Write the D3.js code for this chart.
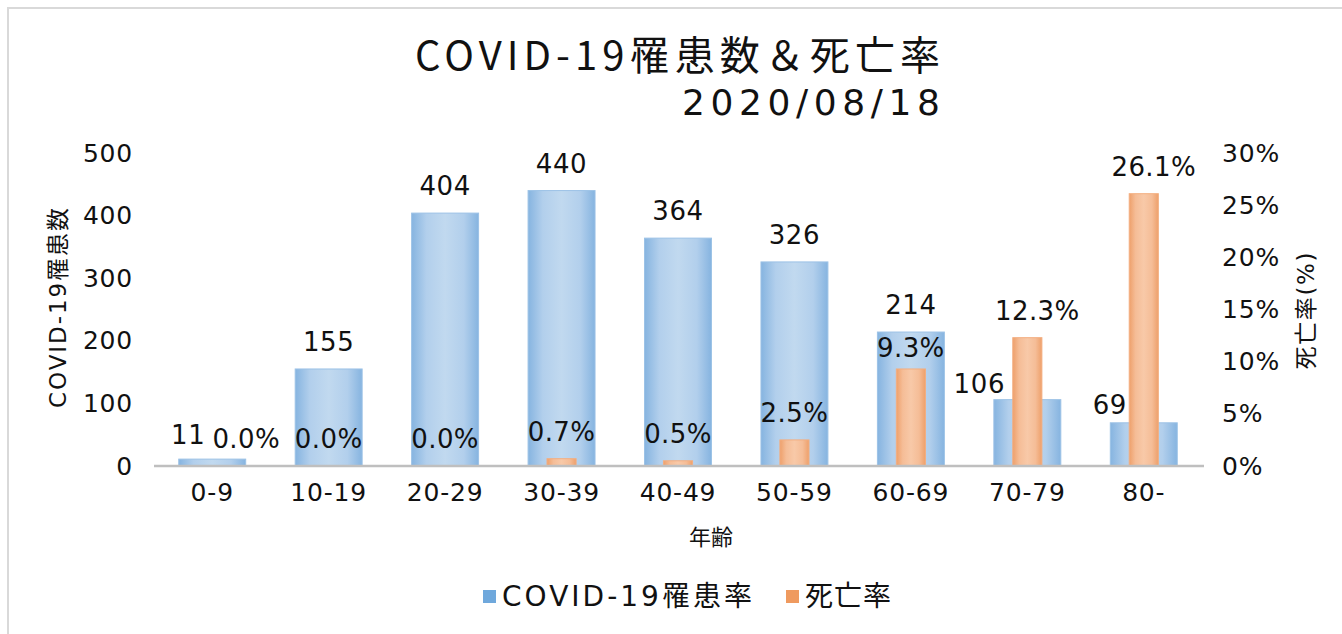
<!DOCTYPE html>
<html>
<head>
<meta charset="utf-8">
<script src="https://cdn.jsdelivr.net/npm/d3@7/dist/d3.min.js"></script>
<style>
  body { margin: 0; background: #fff; }
  svg text { font-family: "DejaVu Sans", "Noto Sans CJK JP", sans-serif; fill: #111; }
  .title { font-family: "Noto Sans CJK JP", sans-serif; }
  .subtitle { font-family: "DejaVu Sans", sans-serif; }
</style>
</head>
<body>
<div id="chart"></div>
<script>

// data
var categories = ["0-9", "10-19", "20-29", "30-39", "40-49", "50-59", "60-69", "70-79", "80-"];
var cases = [11, 155, 404, 440, 364, 326, 214, 106, 69];
var deathRate = [0.0, 0.0, 0.0, 0.7, 0.5, 2.5, 9.3, 12.3, 26.1];
var leftTicks = [0, 100, 200, 300, 400, 500];
var rightTicks = [0, 5, 10, 15, 20, 25, 30];

var width = 1342, height = 634;

// hand-moved data labels (dx, dy)
var caseLabelMove = {"0-9": [-24, 3], "70-79": [-48, 11], "80-": [-34, 9]};
var rateLabelMove = {"0-9": [34, 0], "60-69": [0, 6], "70-79": [10, 0], "80-": [10, 0]};

var svg = d3.select("#chart")
    .append("svg")
    .attr("width", width)
    .attr("height", height);

// chart border
svg.append("rect")
    .attr("x", 8)
    .attr("y", 8)
    .attr("width", 1400)
    .attr("height", 700)
    .attr("fill", "#fff")
    .attr("stroke", "#d9d9d9")
    .attr("stroke-width", 2);

// gradients for the bars
var defs = svg.append("defs");
function addGrad(id, edge, mid, center) {
    var g = defs.append("linearGradient").attr("id", id)
        .attr("x1", 0).attr("x2", 1).attr("y1", 0).attr("y2", 0);
    g.append("stop").attr("offset", "0%").attr("stop-color", edge);
    g.append("stop").attr("offset", "22%").attr("stop-color", mid);
    g.append("stop").attr("offset", "50%").attr("stop-color", center);
    g.append("stop").attr("offset", "78%").attr("stop-color", mid);
    g.append("stop").attr("offset", "100%").attr("stop-color", edge);
}
addGrad("blueGrad", "#86b4e0", "#b2cfec", "#c1d9ef");
addGrad("orangeGrad", "#eea06b", "#f5bd97", "#f8c9a8");

// scales
var x = d3.scaleBand()
    .domain(categories)
    .range([154, 1202])
    .padding(0);

var yLeft = d3.scaleLinear()
    .domain([0, 500])
    .range([466, 153]);

var yRight = d3.scaleLinear()
    .domain([0, 30])
    .range([466, 153]);

var blueW = x.bandwidth() * 0.575;
var orangeW = x.bandwidth() * 0.25;

// title, two lines ending at the same x
svg.append("text")
    .attr("class", "title")
    .attr("x", 940)
    .attr("y", 70)
    .attr("text-anchor", "end")
    .attr("textLength", 525)
    .style("font-size", "40px")
    .text("COVID-19罹患数＆死亡率");

svg.append("text")
    .attr("class", "subtitle")
    .attr("x", 940)
    .attr("y", 115)
    .attr("text-anchor", "end")
    .attr("textLength", 258)
    .style("font-size", "36px")
    .text("2020/08/18");

// axes
var axisLeft = d3.axisLeft(yLeft)
    .tickValues(leftTicks)
    .tickSize(0)
    .tickPadding(21);

var axisRight = d3.axisRight(yRight)
    .tickValues(rightTicks)
    .tickSize(0)
    .tickPadding(20)
    .tickFormat(function(d) { return d + "%"; });

var axisBottom = d3.axisBottom(x)
    .tickSize(0)
    .tickPadding(17)
    .tickSizeOuter(0);

svg.append("g")
    .attr("transform", "translate(154,0)")
    .call(axisLeft)
    .call(function(g) { g.select(".domain").remove(); });

svg.append("g")
    .attr("transform", "translate(1202,0)")
    .call(axisRight)
    .call(function(g) { g.select(".domain").remove(); });

svg.selectAll(".tick text")
    .style("font-size", "25px")
    .style("letter-spacing", "0.8px")
    .attr("fill", "#111");

// blue bars
svg.selectAll("rect.case")
    .data(categories)
    .enter()
    .append("rect")
    .attr("class", "case")
    .attr("x", function(d) { return x(d) + (x.bandwidth() - blueW) / 2; })
    .attr("y", function(d, i) { return yLeft(cases[i]); })
    .attr("width", blueW)
    .attr("height", function(d, i) { return yLeft(0) - yLeft(cases[i]); })
    .attr("fill", "url(#blueGrad)")
    .attr("stroke", "#9cc2e6")
    .attr("stroke-width", 1);

// orange bars on secondary axis
svg.selectAll("rect.rate")
    .data(categories)
    .enter()
    .append("rect")
    .attr("class", "rate")
    .attr("x", function(d) { return x(d) + (x.bandwidth() - orangeW) / 2; })
    .attr("y", function(d, i) { return yRight(deathRate[i]); })
    .attr("width", orangeW)
    .attr("height", function(d, i) { return yRight(0) - yRight(deathRate[i]); })
    .attr("fill", "url(#orangeGrad)")
    .attr("stroke", "#f3ae80")
    .attr("stroke-width", function(d, i) { return deathRate[i] > 0 ? 1 : 0; });

// x axis on top of the bars
var xg = svg.append("g")
    .attr("transform", "translate(0,466)")
    .call(axisBottom);
xg.select(".domain")
    .attr("stroke", "#bfbfbf")
    .attr("stroke-width", 2.5)
    .attr("d", "M154,0H1204");
xg.selectAll("text")
    .style("font-size", "25px")
    .style("letter-spacing", "0.8px")
    .attr("fill", "#111");

// data labels
svg.selectAll("text.caseLabel")
    .data(categories)
    .enter()
    .append("text")
    .attr("class", "caseLabel")
    .attr("text-anchor", "middle")
    .attr("x", function(d) { return x(d) + x.bandwidth() / 2 + (caseLabelMove[d] ? caseLabelMove[d][0] : 0); })
    .attr("y", function(d, i) { return yLeft(cases[i]) - 27 + (caseLabelMove[d] ? caseLabelMove[d][1] : 0); })
    .attr("dy", "0.36em")
    .style("font-size", "26px")
    .style("letter-spacing", "0.6px")
    .text(function(d, i) { return cases[i]; });

svg.selectAll("text.rateLabel")
    .data(categories)
    .enter()
    .append("text")
    .attr("class", "rateLabel")
    .attr("text-anchor", "middle")
    .attr("x", function(d) { return x(d) + x.bandwidth() / 2 + (rateLabelMove[d] ? rateLabelMove[d][0] : 0); })
    .attr("y", function(d, i) { return yRight(deathRate[i]) - 27 + (rateLabelMove[d] ? rateLabelMove[d][1] : 0); })
    .attr("dy", "0.36em")
    .style("font-size", "26px")
    .style("letter-spacing", "0.4px")
    .text(function(d, i) { return deathRate[i].toFixed(1) + "%"; });

// axis titles
svg.append("text")
    .attr("transform", "translate(58,308) rotate(-90)")
    .attr("text-anchor", "middle")
    .attr("dy", "0.36em")
    .attr("textLength", 200)
    .style("font-size", "23px")
    .text("COVID-19罹患数");

svg.append("text")
    .attr("transform", "translate(1306,311) rotate(-90)")
    .attr("text-anchor", "middle")
    .attr("dy", "0.36em")
    .attr("textLength", 117)
    .style("font-size", "23px")
    .text("死亡率(%)");

svg.append("text")
    .attr("x", 711)
    .attr("y", 537)
    .attr("text-anchor", "middle")
    .attr("dy", "0.36em")
    .style("font-size", "22px")
    .text("年齢");

// legend
var legendItems = [
    {name: "COVID-19罹患率", color: "#6fa8dc", x: 483, len: 250},
    {name: "死亡率", color: "#ef9a5f", x: 786, len: 86}
];
var legend = svg.selectAll("g.legend")
    .data(legendItems)
    .enter()
    .append("g")
    .attr("class", "legend")
    .attr("transform", function(d) { return "translate(" + d.x + ",596)"; });
legend.append("rect")
    .attr("x", 0)
    .attr("y", -6)
    .attr("width", 13)
    .attr("height", 13)
    .attr("fill", function(d) { return d.color; });
legend.append("text")
    .attr("x", 19)
    .attr("dy", "0.36em")
    .attr("textLength", function(d) { return d.len; })
    .style("font-size", "28px")
    .text(function(d) { return d.name; });

</script>
</body>
</html>
